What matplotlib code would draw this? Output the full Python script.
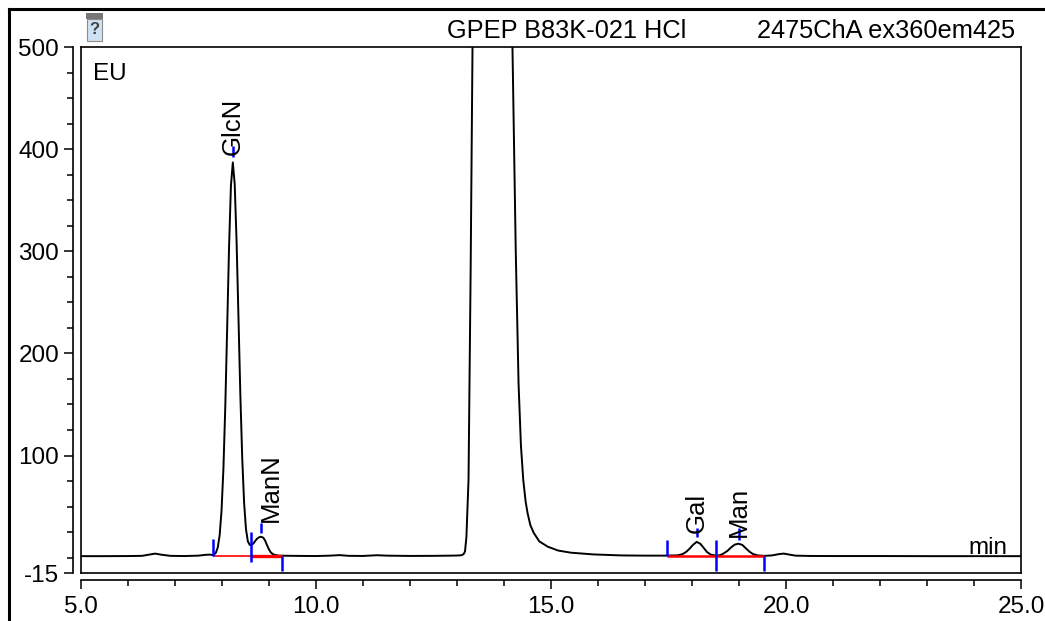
import matplotlib
matplotlib.use('Agg')
import matplotlib.pyplot as plt
from matplotlib.lines import Line2D
from matplotlib.patches import Rectangle
from matplotlib.ticker import FixedLocator, FormatStrFormatter, MultipleLocator

plt.rcParams['font.family'] = ['Liberation Sans', 'DejaVu Sans']

# Chromatogram trace (min, EU).
time_min = [
    5.0, 5.5, 6.0, 6.3, 6.45, 6.58, 6.7, 6.9, 7.2, 7.5, 7.65, 7.75, 7.80,
    7.83, 7.87, 7.91, 7.95, 7.99, 8.03, 8.07, 8.11, 8.15, 8.19, 8.23,
    8.27, 8.31, 8.35, 8.39, 8.43, 8.47, 8.51, 8.55, 8.59, 8.63,
    8.67, 8.70, 8.74, 8.78, 8.83, 8.88, 8.92, 8.96, 9.00, 9.04,
    9.10, 9.20,
    9.5, 10.0, 10.3, 10.5, 10.7, 11.0, 11.3, 11.5, 12.0, 12.5, 12.9, 13.05,
    13.10, 13.14, 13.17, 13.20, 13.245, 13.29, 13.33, 13.45, 13.6, 13.75,
    13.9, 14.05, 14.15, 14.18, 14.25, 14.31, 14.36, 14.41, 14.46, 14.50,
    14.56, 14.63, 14.75, 14.93, 15.15, 15.42, 15.9, 16.5,
    17.0, 17.4, 17.7, 17.8, 17.88, 17.95, 18.02, 18.10, 18.18, 18.25, 18.32, 18.40, 18.50,
    18.58, 18.65, 18.75, 18.83, 18.91, 18.99, 19.07, 19.15, 19.22, 19.30, 19.40, 19.55,
    19.7, 19.85, 19.95, 20.05, 20.2, 20.5, 21.0, 22.0, 23.0, 24.0, 25.0,
]
signal_eu = [
    1.5, 1.5, 1.6, 1.8, 3.0, 4.0, 3.0, 1.8, 1.6, 2.0, 2.8, 3.0, 2.6,
    3.0, 4.9, 10, 22, 46, 87, 148, 225, 304, 364, 387,
    366, 310, 236, 160, 98, 54, 28, 16, 12.5, 12.5,
    14, 16, 18.3, 19.8, 20.5, 19.5, 16.5, 12, 8, 5,
    3, 2.0,
    1.8, 1.6, 2.0, 2.5, 1.8, 1.7, 2.4, 2.0, 1.7, 1.8, 2.0, 2.2,
    2.5, 3.5, 6, 20, 76, 280, 500, 800, 950, 1000,
    950, 780, 580, 500, 300, 170, 110, 76, 55, 44,
    32, 24.5, 16, 10.8, 7, 4.9, 3.2, 2.2,
    2.0, 2.0, 2.3, 3.5, 5.8, 8.9, 12.5, 15.5, 13.5, 9.5, 5.5, 3.0, 2.1,
    2.3, 3.5, 6.5, 10, 12.8, 13.7, 12.5, 9, 6, 3.5, 2.2, 1.8,
    2.2, 3.5, 4.0, 3.2, 2.0, 1.7, 1.6, 1.6, 1.5, 1.5, 1.5,
]

# Peak annotations
peak_names = ['GlcN', 'ManN', 'Gal', 'Man']
peak_apex_t = [8.23, 8.83, 18.11, 19.00]
apex_mark_lo = [392, 24.5, 20.5, 17.6]
apex_mark_hi = [403, 34, 29, 29]
label_t = [8.23, 9.03, 18.11, 19.00]
label_eu = [394, 35, 24.5, 20.5]

# Integration delimiters and baselines
delim_t = [7.81, 8.62, 9.28, 17.46, 18.52, 19.53]
delim_lo = [2, -4, -12.7, 2, -13.5, -12.7]
delim_hi = [18.6, 25.4, 2, 17.6, 17.6, 2]
base_start = [7.81, 8.62, 17.46, 18.52]
base_end = [8.62, 9.28, 18.52, 19.53]
base_eu = [1.6, 1.6, 1.6, 1.6]
base_width = [1.2, 2.4, 1.8, 1.8]

W, H = 1045, 621


def fx(x):
    return x / W


def fy(y):
    return 1 - y / H


fig = plt.figure(figsize=(W / 100, H / 100), dpi=100)
ax = fig.add_axes([fx(81), fy(573), 940 / W, 526 / H])

ax.plot(time_min, signal_eu, color='black', lw=1.4, solid_joinstyle='round')

# red baselines, blue delimiters and apex marks
for s, e, v, w in zip(base_start, base_end, base_eu, base_width):
    ax.plot([s, e], [v, v], color='red', lw=w, solid_capstyle='butt')
ax.vlines(delim_t, delim_lo, delim_hi, color='blue', lw=1.8)
ax.vlines(peak_apex_t, apex_mark_lo, apex_mark_hi, color='blue', lw=1.8)

for name, t, v in zip(peak_names, label_t, label_eu):
    ax.text(t, v, name, rotation=90, rotation_mode='anchor', ha='left', va='center',
            fontsize=18.5, color='black')

ax.set_xlim(5, 25)
ax.set_ylim(-15, 500)

# axes: offset left/bottom spines, plain box around the plot
for sp in ax.spines.values():
    sp.set_linewidth(1.2)
ax.spines['left'].set_position(('outward', 8 * 0.72))
ax.spines['bottom'].set_position(('outward', 7 * 0.72))
ax.add_line(Line2D([0, 0], [0, 1], transform=ax.transAxes, color='black', lw=1.2, clip_on=False))
ax.add_line(Line2D([0, 1], [0, 0], transform=ax.transAxes, color='black', lw=1.2, clip_on=False))

ax.yaxis.set_major_locator(FixedLocator([-15, 100, 200, 300, 400, 500]))
ax.yaxis.set_minor_locator(FixedLocator([0, 25, 50, 75, 125, 150, 175, 225, 250, 275,
                                         325, 350, 375, 425, 450, 475]))
ax.yaxis.set_major_formatter(FormatStrFormatter('%d'))
ax.xaxis.set_major_locator(MultipleLocator(5))
ax.xaxis.set_minor_locator(MultipleLocator(1))
ax.xaxis.set_major_formatter(FormatStrFormatter('%.1f'))

ax.tick_params(axis='y', which='major', length=6.5, width=1.1, pad=3.5, labelsize=17.5)
ax.tick_params(axis='y', which='minor', length=4.3, width=1.1)
ax.tick_params(axis='x', which='major', length=6.5, width=1.1, pad=5, labelsize=17.5)
ax.tick_params(axis='x', which='minor', length=4.5, width=1.1)

# header texts and unit labels
fig.text(fx(447), fy(38), 'GPEP B83K-021 HCl', fontsize=18.3, ha='left', va='baseline')
fig.text(fx(1015), fy(38), '2475ChA ex360em425', fontsize=18.3, ha='right', va='baseline')
fig.text(fx(93), fy(80), 'EU', fontsize=17.5, ha='left', va='baseline')
fig.text(fx(1007), fy(554), 'min', fontsize=17.5, ha='right', va='baseline')

# outer window frame
fig.add_artist(Line2D([fx(9), fx(9)], [fy(9), 0], color='black', lw=2.2))
fig.add_artist(Line2D([fx(9), 1], [fy(9), fy(9)], color='black', lw=2.2))

# small vial icon with question mark
fig.add_artist(Rectangle((fx(86), fy(19)), 17 / W, 6 / H, transform=fig.transFigure,
                         facecolor='#777777', edgecolor='none'))
fig.add_artist(Rectangle((fx(87), fy(41)), 15 / W, 22 / H, transform=fig.transFigure,
                         facecolor='#cfe2f3', edgecolor='#8c8c8c', lw=0.8))
fig.text(fx(94.5), fy(30), '?', fontsize=12, fontweight='bold', color='#404040',
         ha='center', va='center')

fig.savefig('out.png', dpi=100)
